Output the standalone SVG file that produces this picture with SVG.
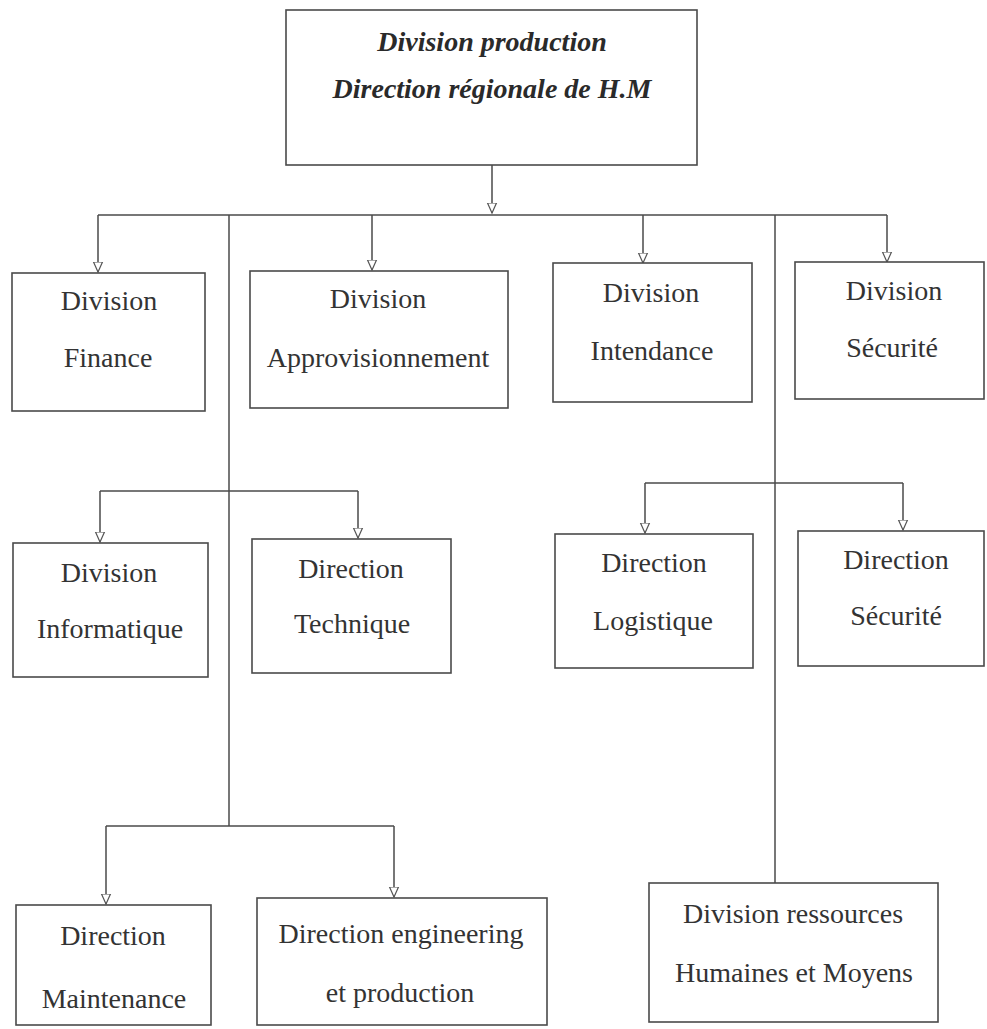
<svg xmlns="http://www.w3.org/2000/svg" width="987" height="1029" viewBox="0 0 987 1029">
<defs>
<style>
.box{fill:#fff;stroke:#4a4a4a;stroke-width:1.6}
.t{font-family:"Liberation Serif","Times New Roman",serif;font-size:28px;fill:#333;text-anchor:middle}
.tb{font-family:"Liberation Serif","Times New Roman",serif;font-size:28px;font-weight:bold;font-style:italic;fill:#2a2a2a;text-anchor:middle}
.c{fill:none;stroke:#4a4a4a;stroke-width:1.5}
</style>
<marker id="ah" markerWidth="12" markerHeight="12" refX="10" refY="5" orient="auto" markerUnits="userSpaceOnUse" viewBox="0 0 12 10">
<path d="M0,0.5 L10,5 L0,9.5 Z" fill="#fff" stroke="#555" stroke-width="1.2"/>
</marker>
</defs>
<rect width="987" height="1029" fill="#fff"/>
<g id="connectors">
<path class="c" d="M492,165 V213" marker-end="url(#ah)"/>
<path class="c" d="M98,215 H887"/>
<path class="c" d="M98,215 V272" marker-end="url(#ah)"/>
<path class="c" d="M372,215 V270" marker-end="url(#ah)"/>
<path class="c" d="M643,215 V263" marker-end="url(#ah)"/>
<path class="c" d="M887,215 V262" marker-end="url(#ah)"/>
<path class="c" d="M229,215 V826"/>
<path class="c" d="M775,215 V883"/>
<path class="c" d="M100,491 H358"/>
<path class="c" d="M100,491 V542" marker-end="url(#ah)"/>
<path class="c" d="M358,491 V538" marker-end="url(#ah)"/>
<path class="c" d="M645,483 H903"/>
<path class="c" d="M645,483 V533" marker-end="url(#ah)"/>
<path class="c" d="M903,483 V530" marker-end="url(#ah)"/>
<path class="c" d="M106,826 H394"/>
<path class="c" d="M106,826 V904" marker-end="url(#ah)"/>
<path class="c" d="M394,826 V897" marker-end="url(#ah)"/>
</g>
<g id="n-top">
<rect class="box" x="286" y="10" width="411" height="155"/>
<text class="tb" x="492" y="51">Division production</text>
<text class="tb" x="492" y="98">Direction régionale de H.M</text>
</g>
<g id="n-finance">
<rect class="box" x="12" y="273" width="193" height="138"/>
<text class="t" x="109" y="310">Division</text>
<text class="t" x="108" y="367">Finance</text>
</g>
<g id="n-approv">
<rect class="box" x="250" y="271" width="258" height="137"/>
<text class="t" x="378" y="308">Division</text>
<text class="t" x="378" y="367">Approvisionnement</text>
</g>
<g id="n-intendance">
<rect class="box" x="553" y="263" width="199" height="139"/>
<text class="t" x="651" y="302">Division</text>
<text class="t" x="652" y="360">Intendance</text>
</g>
<g id="n-securite-div">
<rect class="box" x="795" y="262" width="189" height="137"/>
<text class="t" x="894" y="300">Division</text>
<text class="t" x="892" y="357">Sécurité</text>
</g>
<g id="n-informatique">
<rect class="box" x="13" y="543" width="195" height="134"/>
<text class="t" x="109" y="582">Division</text>
<text class="t" x="110" y="638">Informatique</text>
</g>
<g id="n-technique">
<rect class="box" x="252" y="539" width="199" height="134"/>
<text class="t" x="351" y="578">Direction</text>
<text class="t" x="352" y="633">Technique</text>
</g>
<g id="n-logistique">
<rect class="box" x="555" y="534" width="198" height="134"/>
<text class="t" x="654" y="572">Direction</text>
<text class="t" x="653" y="630">Logistique</text>
</g>
<g id="n-securite-dir">
<rect class="box" x="798" y="531" width="186" height="135"/>
<text class="t" x="896" y="569">Direction</text>
<text class="t" x="896" y="625">Sécurité</text>
</g>
<g id="n-maintenance">
<rect class="box" x="16" y="905" width="195" height="120"/>
<text class="t" x="113" y="945">Direction</text>
<text class="t" x="114" y="1008">Maintenance</text>
</g>
<g id="n-engineering">
<rect class="box" x="257" y="898" width="290" height="127"/>
<text class="t" x="401" y="943">Direction engineering</text>
<text class="t" x="400" y="1002">et production</text>
</g>
<g id="n-rh">
<rect class="box" x="649" y="883" width="289" height="139"/>
<text class="t" x="793" y="923">Division ressources</text>
<text class="t" x="794" y="982">Humaines et Moyens</text>
</g>
</svg>
